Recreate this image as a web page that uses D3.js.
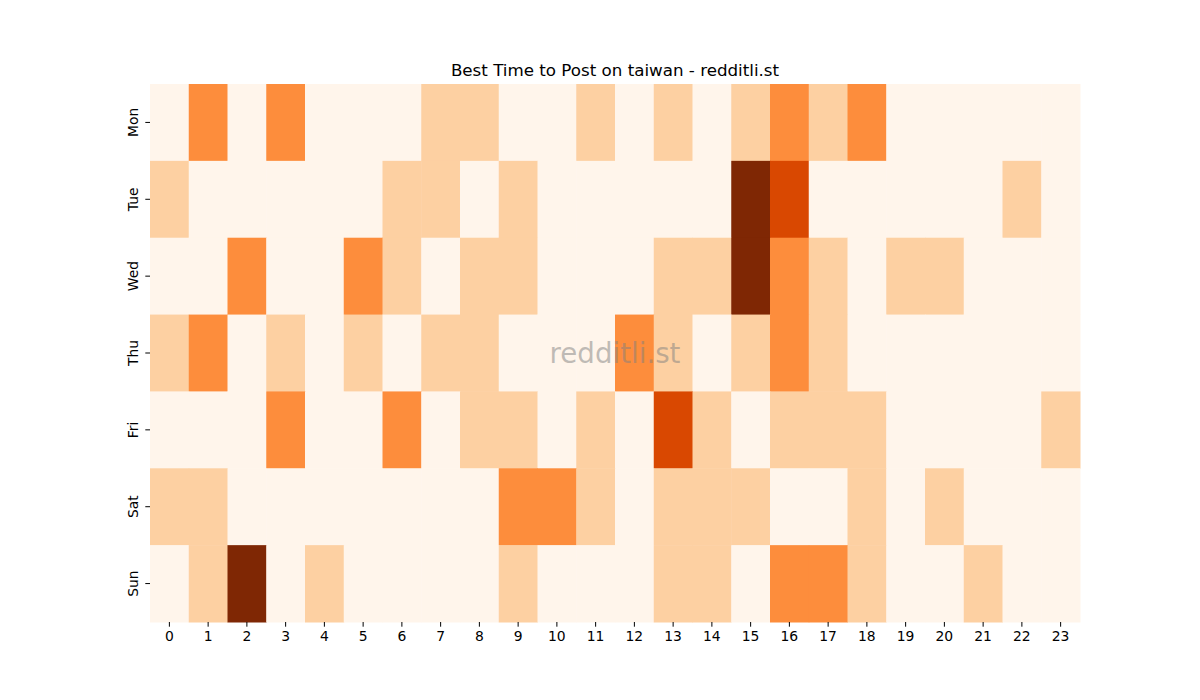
<!DOCTYPE html>
<html>
<head>
<meta charset="utf-8">
<script src="https://cdn.jsdelivr.net/npm/d3@7/dist/d3.min.js"></script>
<style>
  body { margin: 0; background: #fff; }
  svg text { font-family: "DejaVu Sans", sans-serif; }
</style>
</head>
<body>
<div id="chart"></div>
<script>
  "use strict";

  var days = ["Mon", "Tue", "Wed", "Thu", "Fri", "Sat", "Sun"];
  var hours = d3.range(24).map(String);

  // post counts per day (rows) and hour (columns)
  var mon = [0, 2, 0, 2, 0, 0, 0, 1, 1, 0, 0, 1, 0, 1, 0, 1, 2, 1, 2, 0, 0, 0, 0, 0];
  var tue = [1, 0, 0, 0, 0, 0, 1, 1, 0, 1, 0, 0, 0, 0, 0, 4, 3, 0, 0, 0, 0, 0, 1, 0];
  var wed = [0, 0, 2, 0, 0, 2, 1, 0, 1, 1, 0, 0, 0, 1, 1, 4, 2, 1, 0, 1, 1, 0, 0, 0];
  var thu = [1, 2, 0, 1, 0, 1, 0, 1, 1, 0, 0, 0, 2, 1, 0, 1, 2, 1, 0, 0, 0, 0, 0, 0];
  var fri = [0, 0, 0, 2, 0, 0, 2, 0, 1, 1, 0, 1, 0, 3, 1, 0, 1, 1, 1, 0, 0, 0, 0, 1];
  var sat = [1, 1, 0, 0, 0, 0, 0, 0, 0, 2, 2, 1, 0, 1, 1, 1, 0, 0, 1, 0, 1, 0, 0, 0];
  var sun = [0, 1, 4, 0, 1, 0, 0, 0, 0, 1, 0, 0, 0, 1, 1, 0, 2, 2, 1, 0, 0, 1, 0, 0];
  var rows = [mon, tue, wed, thu, fri, sat, sun];

  var width = 1200, height = 700;
  var margin = { top: 84, right: 120, bottom: 78, left: 150 };

  var svg = d3.select("#chart").append("svg")
    .attr("width", width)
    .attr("height", height);

  var x = d3.scaleBand().domain(hours).range([margin.left, width - margin.right]);
  var y = d3.scaleBand().domain(days).range([margin.top, height - margin.bottom]);

  // matplotlib "Oranges" stops
  var stops = ["#fff5eb", "#fee6ce", "#fdd0a2", "#fdae6b", "#fd8d3c", "#f16913", "#d94801", "#a63603", "#7f2704"];
  var color = d3.scaleLinear()
    .domain(d3.range(stops.length).map(function (i) { return i * 4 / (stops.length - 1); }))
    .range(stops);

  var cells = [];
  rows.forEach(function (r, i) {
    r.forEach(function (v, j) {
      cells.push({ day: days[i], hour: hours[j], value: v });
    });
  });

  svg.append("g").selectAll("rect")
    .data(cells)
    .enter().append("rect")
    .attr("x", function (d) { return x(d.hour); })
    .attr("y", function (d) { return y(d.day); })
    .attr("width", x.bandwidth() + 0.5)
    .attr("height", y.bandwidth() + 0.5)
    .attr("fill", function (d) { return color(d.value); });

  var xAxis = svg.append("g")
    .attr("transform", "translate(0," + (height - margin.bottom) + ")")
    .call(d3.axisBottom(x).tickSizeOuter(0).tickSize(4.7).tickPadding(4.5));
  xAxis.select(".domain").remove();
  xAxis.selectAll("text").attr("font-size", "13.9px").attr("fill", "#000");

  var yAxis = svg.append("g")
    .attr("transform", "translate(" + margin.left + ",0)")
    .call(d3.axisLeft(y).tickSizeOuter(0).tickSize(4.7).tickPadding(4.5));
  yAxis.select(".domain").remove();
  yAxis.selectAll("text")
    .attr("font-size", "13.9px")
    .attr("fill", "#000")
    .attr("text-anchor", "middle")
    .attr("x", null)
    .attr("dy", null)
    .attr("transform", "translate(-17,0) rotate(-90)")
    .attr("dominant-baseline", "central");

  svg.append("text")
    .attr("x", (margin.left + width - margin.right) / 2)
    .attr("y", 76)
    .attr("text-anchor", "middle")
    .attr("font-size", "16.7px")
    .attr("fill", "#000")
    .text("Best Time to Post on taiwan - redditli.st");

  svg.append("text")
    .attr("x", (margin.left + width - margin.right) / 2)
    .attr("y", (margin.top + height - margin.bottom) / 2)
    .attr("text-anchor", "middle")
    .attr("dominant-baseline", "central")
    .attr("font-size", "27.7px")
    .attr("fill", "#808080")
    .attr("fill-opacity", 0.5)
    .text("redditli.st");
</script>
</body>
</html>
